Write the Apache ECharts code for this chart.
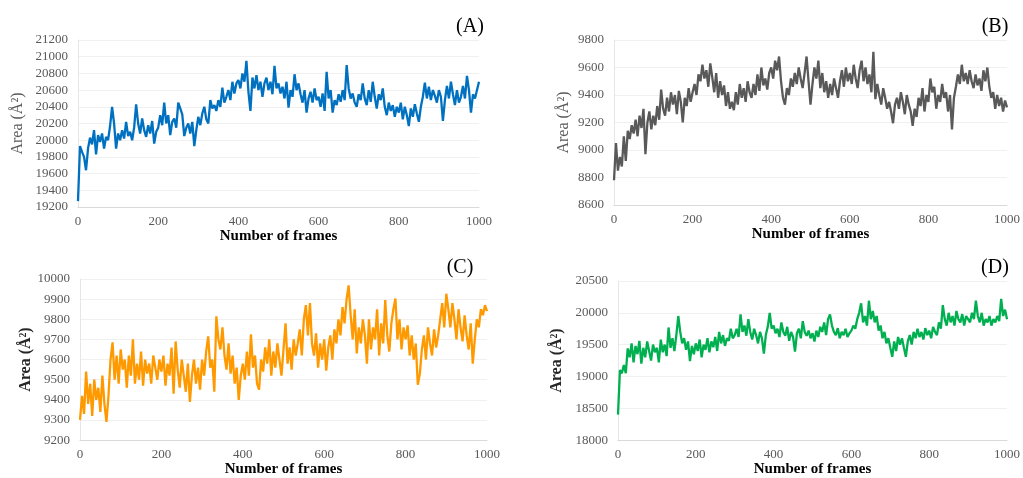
<!DOCTYPE html>
<html>
<head>
<meta charset="utf-8">
<script src="https://cdn.jsdelivr.net/npm/echarts@6/dist/echarts.min.js"></script>
<style>html,body{margin:0;padding:0;background:#fff;}#chart{width:1023px;height:478px;}</style>
</head>
<body>
<div id="chart"></div>
<script>
// Frame step between sampled values (frames 0..1000)
const FRAME_STEP = 5;
const xTicks = [0, 200, 400, 600, 800, 1000];
const panelLabels = ['(A)', '(B)', '(C)', '(D)'];
const xTitle = 'Number of frames';
const yTitle = 'Area (\u00C5\u00B2)';

const seriesA = [
19270,19930,19860,19800,19640,19900,20030,19950,20120,19830,20060,19980,20080,19900,20040,20000,20170,20400,20200,19900,
20080,20000,20120,20020,20220,20050,20100,20000,20150,20430,20200,20080,20260,20120,20040,20180,20080,20230,19960,20100,
20150,20300,20180,20450,20200,20300,20060,20220,20260,20150,20450,20380,20310,20050,20150,20200,20080,20220,19930,20120,
20280,20180,20320,20400,20250,20200,20480,20380,20420,20350,20480,20400,20630,20450,20520,20600,20480,20700,20560,20680,
20720,20620,20800,20700,20950,20580,20350,20750,20620,20780,20600,20700,20520,20680,20750,20600,20700,20550,20890,20620,
20680,20560,20640,20500,20700,20390,20600,20520,20790,20600,20680,20550,20450,20600,20330,20500,20580,20450,20620,20480,
20520,20400,20560,20350,20820,20500,20600,20330,20480,20420,20550,20460,20600,20480,20900,20620,20500,20560,20450,20400,
20550,20480,20680,20500,20420,20600,20460,20700,20520,20380,20550,20480,20620,20400,20300,20450,20350,20420,20280,20400,
20330,20450,20250,20400,20300,20170,20380,20280,20430,20320,20220,20400,20520,20690,20500,20640,20480,20600,20530,20450,
20600,20520,20230,20480,20650,20500,20700,20550,20420,20600,20450,20520,20650,20500,20770,20600,20330,20550,20500,20600,
20700];

const seriesB = [
8780,9050,8850,8950,8880,9100,8920,9140,9080,9180,9120,9220,9100,9250,9160,9300,8970,9200,9280,9150,
9250,9180,9320,9220,9440,9300,9250,9380,9280,9420,9330,9400,9260,9430,9350,9200,9380,9320,9450,9350,
9420,9480,9400,9550,9500,9620,9520,9580,9460,9630,9530,9420,9560,9380,9500,9400,9470,9320,9420,9300,
9350,9290,9420,9330,9480,9380,9450,9350,9500,9420,9380,9480,9400,9550,9430,9600,9470,9520,9440,9560,
9600,9520,9650,9580,9680,9500,9380,9330,9450,9400,9520,9460,9560,9480,9600,9520,9450,9560,9680,9500,
9330,9480,9600,9520,9650,9450,9560,9420,9500,9380,9480,9400,9520,9450,9380,9500,9580,9460,9600,9500,
9560,9480,9620,9520,9450,9580,9650,9500,9600,9480,9550,9420,9715,9370,9480,9400,9330,9450,9380,9300,
9350,9280,9195,9330,9380,9300,9420,9350,9260,9400,9330,9280,9175,9300,9240,9380,9320,9450,9280,9400,
9350,9520,9420,9460,9300,9400,9350,9480,9380,9420,9280,9400,9150,9380,9460,9550,9480,9620,9500,9560,
9480,9580,9500,9450,9550,9470,9520,9430,9580,9500,9600,9460,9380,9420,9300,9400,9320,9380,9280,9360,
9310];

const seriesC = [
9300,9420,9330,9540,9380,9480,9320,9500,9400,9460,9340,9520,9380,9290,9420,9600,9685,9500,9620,9480,
9650,9550,9600,9460,9620,9520,9700,9480,9580,9500,9640,9470,9600,9530,9580,9480,9620,9560,9500,9600,
9540,9620,9470,9580,9520,9660,9430,9690,9550,9460,9600,9520,9440,9580,9390,9520,9600,9480,9560,9450,
9600,9520,9640,9715,9560,9600,9440,9815,9700,9650,9760,9620,9550,9680,9530,9620,9480,9560,9400,9520,
9580,9500,9640,9520,9725,9560,9620,9480,9450,9600,9540,9660,9580,9700,9520,9640,9560,9680,9600,9520,
9650,9780,9580,9660,9550,9700,9620,9680,9750,9620,9800,9870,9720,9880,9680,9620,9730,9560,9680,9600,
9700,9545,9660,9720,9600,9750,9680,9800,9720,9860,9780,9900,9968,9820,9700,9850,9630,9760,9680,9800,
9720,9580,9800,9650,9760,9700,9850,9620,9780,9680,9895,9720,9640,9780,9850,9903,9700,9800,9650,9760,
9700,9770,9620,9720,9600,9680,9475,9530,9650,9720,9600,9760,9680,9620,9750,9660,9720,9800,9880,9760,
9927,9850,9760,9880,9800,9700,9850,9760,9690,9820,9720,9650,9780,9580,9700,9800,9760,9850,9820,9870,
9840];

const seriesD = [
18400,19100,19050,19180,19050,19440,19300,19520,19220,19480,19350,19560,19200,19450,19300,19550,19400,19250,19500,19380,
19450,19220,19580,19380,19500,19320,19770,19450,19600,19400,19650,19950,19700,19520,19600,19420,19550,19240,19480,19350,
19520,19400,19580,19300,19500,19420,19600,19380,19550,19460,19620,19400,19700,19520,19650,19480,19600,19560,19750,19600,
19650,19750,19620,19975,19700,19800,19640,19900,19700,19580,19750,19650,19520,19700,19600,19360,19650,19780,20000,19750,
19800,19680,19750,19620,19850,19700,19640,19780,19560,19700,19620,19390,19680,19750,19600,19870,19700,19640,19720,19600,
19680,19550,19720,19620,19780,19700,19850,19650,19900,19975,19800,19700,19650,19760,19600,19700,19650,19750,19620,19680,
19720,19800,19750,19900,20000,20150,19850,19950,19800,20190,19900,20030,19850,19950,19720,19800,19600,19700,19520,19600,
19450,19310,19550,19400,19620,19500,19600,19450,19310,19550,19650,19500,19700,19600,19750,19620,19700,19580,19760,19650,
19720,19600,19780,19700,19650,19850,19750,20120,19900,19800,20000,19850,19950,19800,20030,19900,19850,19980,19800,19950,
19900,19850,20000,19900,20190,19950,19850,20000,19800,19900,19850,19950,19800,19900,19850,19950,19870,20220,19950,20050,
19900];

const yRanges = [
  {min: 19200, max: 21200, interval: 200},
  {min: 8600, max: 9800, interval: 200},
  {min: 9200, max: 10000, interval: 100},
  {min: 18000, max: 20500, interval: 500}
];
const colors = ['#0070C0', '#595959', '#FF9900', '#00B050'];
const allSeries = [seriesA, seriesB, seriesC, seriesD];

const FONT = '"Liberation Serif", "Times New Roman", serif';
const grids = [
  {left: 78, top: 40, width: 401, height: 167},
  {left: 614, top: 40, width: 397, height: 165},
  {left: 80, top: 279, width: 407, height: 165},
  {left: 618, top: 281, width: 393, height: 163}
];
const yNameBold = [false, false, true, true];
const yNameGap = [52, 42, 46, 53];
const labelPos = [[470, 27], [995, 27], [460, 268], [995, 268]];

const chart = echarts.init(document.getElementById('chart'), null, {renderer: 'canvas'});
const option = {
  animation: false,
  backgroundColor: '#fff',
  grid: grids.map(g => Object.assign({containLabel: false}, g)),
  xAxis: grids.map((g, i) => ({
    gridIndex: i, type: 'value', min: 0, max: 1000, interval: 200,
    name: xTitle, nameLocation: 'middle', nameGap: 18,
    nameTextStyle: {fontFamily: FONT, fontSize: 15, fontWeight: 'bold', color: '#000'},
    axisLine: {show: true, lineStyle: {color: '#d9d9d9', width: 1}},
    axisTick: {show: false},
    splitLine: {show: false},
    axisLabel: {fontFamily: FONT, fontSize: 13, color: '#595959', margin: 8,
      formatter: v => xTicks.includes(v) ? String(v) : ''}
  })),
  yAxis: grids.map((g, i) => ({
    gridIndex: i, type: 'value', min: yRanges[i].min, max: yRanges[i].max, interval: yRanges[i].interval,
    name: yTitle, nameLocation: 'middle', nameGap: yNameGap[i], nameRotate: 90,
    nameTextStyle: {fontFamily: FONT, fontSize: 16, fontWeight: yNameBold[i] ? 'bold' : 'normal',
      color: yNameBold[i] ? '#262626' : '#595959'},
    axisLine: {show: true, lineStyle: {color: '#e6e6e6', width: 1}},
    axisTick: {show: false},
    splitLine: {show: true, lineStyle: {color: '#f0f0f0', width: 1}},
    axisLabel: {fontFamily: FONT, fontSize: 13, color: '#595959', margin: 10,
      formatter: v => String(v)}
  })),
  series: allSeries.map((vals, i) => ({
    type: 'line', xAxisIndex: i, yAxisIndex: i, showSymbol: false, symbol: 'none',
    lineStyle: {color: colors[i], width: 2.3}, itemStyle: {color: colors[i]},
    data: vals.map((v, k) => [k * FRAME_STEP, v])
  })),
  graphic: panelLabels.map((t, i) => ({
    type: 'text', x: labelPos[i][0], y: labelPos[i][1],
    style: {text: t, font: '20px ' + FONT, fill: '#000', align: 'center', verticalAlign: 'middle'}
  }))
};
chart.setOption(option);
</script>
</body>
</html>
